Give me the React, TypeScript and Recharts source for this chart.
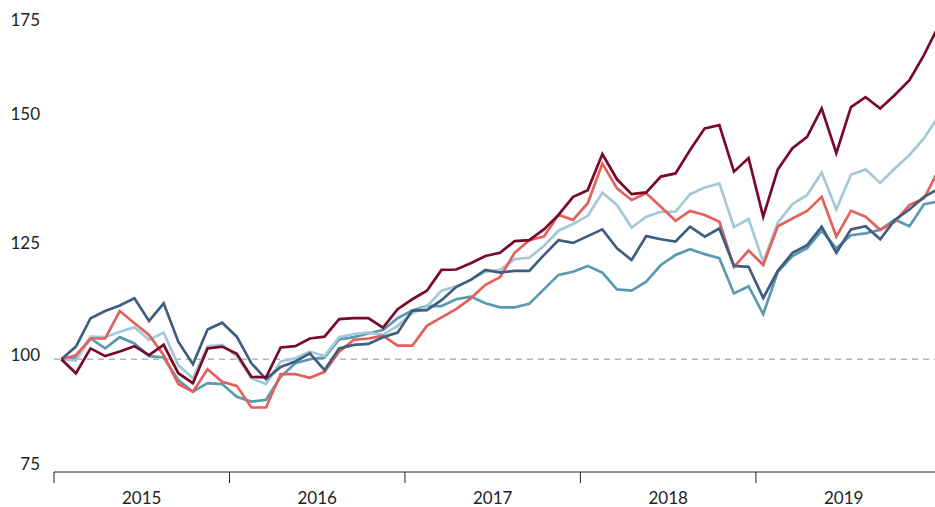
import { LineChart, Line, XAxis, YAxis, ReferenceLine } from 'recharts';

// monthly index, Jan 2015 .. Jan 2020 (plotted mid-month)
const MONTHS = [
    0, 1, 2, 3, 4, 5, 6, 7, 8, 9, 10, 11, 12, 13, 14, 15, 16, 17, 18, 19,
    20, 21, 22, 23, 24, 25, 26, 27, 28, 29, 30, 31, 32, 33, 34, 35, 36, 37, 38, 39,
    40, 41, 42, 43, 44, 45, 46, 47, 48, 49, 50, 51, 52, 53, 54, 55, 56, 57, 58, 59, 60,
];

const YEARS = ['2015', '2016', '2017', '2018', '2019'];
const Y_TICKS = [75, 100, 125, 150, 175];

const DARK_RED = [
    100, 96.9, 102.4, 100.7, 101.7, 102.9, 100.9, 103.2, 96.9, 94.7, 102.4, 102.8,
    101.2, 96.1, 96.0, 102.6, 102.9, 104.6, 105.0, 108.9, 109.1, 109.1, 107.0, 111.1,
    113.3, 115.2, 119.8, 119.9, 121.3, 122.9, 123.6, 126.2, 126.4, 128.8, 132.0, 136.0,
    137.5, 145.5, 139.9, 136.6, 137.0, 140.5, 141.2, 146.4, 151.2, 151.9, 141.6, 144.6,
    131.6, 142.1, 146.8, 149.3, 155.6, 145.7, 155.9, 158.1, 155.6, 158.6, 161.9, 167.5, 174.0,
];
const SALMON = [
    100, 100.9, 104.6, 104.6, 110.7, 108.0, 105.4, 100.9, 94.5, 92.8, 97.8, 95.0,
    94.1, 89.3, 89.3, 96.7, 96.7, 95.9, 97.2, 101.7, 104.3, 104.6, 105.2, 103.0,
    103.0, 107.4, 109.3, 111.1, 113.5, 116.5, 118.2, 123.6, 126.4, 127.2, 132.0, 130.9,
    134.6, 143.4, 137.9, 135.3, 136.8, 133.8, 130.7, 132.9, 132.0, 130.5, 120.5, 124.1,
    120.9, 129.5, 131.2, 132.9, 136.0, 127.2, 132.9, 131.6, 128.7, 130.5, 134.2, 135.7, 142.0,
];
const LIGHT_BLUE = [
    100, 99.7, 105.0, 104.9, 106.1, 107.1, 104.3, 105.9, 98.7, 95.8, 102.9, 103.2,
    100.6, 95.8, 94.5, 99.5, 100.2, 101.7, 100.7, 104.9, 105.6, 105.9, 105.4, 107.4,
    110.2, 111.7, 115.2, 116.2, 117.6, 119.4, 119.8, 122.2, 122.5, 125.1, 128.5, 130.0,
    131.8, 136.9, 134.2, 129.2, 131.6, 132.7, 132.7, 136.6, 138.1, 139.0, 129.3, 131.1,
    121.6, 130.3, 134.4, 136.4, 141.4, 133.2, 140.9, 142.1, 139.1, 142.3, 145.3, 149.0, 154.0,
];
const DARK_BLUE = [
    100, 102.8, 109.1, 110.7, 111.9, 113.5, 108.5, 112.4, 103.9, 98.9, 106.6, 108.1,
    105.0, 99.1, 95.6, 98.3, 99.5, 101.3, 97.6, 102.4, 103.2, 103.4, 104.9, 105.9,
    110.8, 110.9, 113.1, 116.0, 117.6, 119.8, 119.2, 119.6, 119.6, 123.1, 126.4, 125.8,
    127.3, 128.8, 124.6, 122.0, 127.3, 126.6, 126.1, 129.4, 127.2, 129.0, 120.7, 120.5,
    113.6, 119.6, 123.6, 125.3, 129.4, 123.6, 128.8, 129.5, 126.6, 130.9, 133.2, 136.0, 137.8,
];
const TEAL = [
    100, 100.2, 104.6, 102.4, 104.9, 103.5, 100.7, 100.4, 95.4, 92.8, 94.7, 94.5,
    91.7, 90.6, 91.0, 96.1, 99.1, 100.0, 100.4, 104.4, 104.9, 105.7, 106.5, 109.1,
    110.8, 111.8, 111.8, 113.3, 113.9, 112.4, 111.5, 111.5, 112.3, 115.5, 118.7, 119.4,
    120.7, 119.2, 115.5, 115.2, 117.2, 120.9, 123.1, 124.4, 123.3, 122.4, 114.6, 116.2,
    110.0, 119.4, 122.9, 124.6, 128.5, 124.6, 127.5, 127.9, 128.7, 131.0, 129.5, 134.4, 135.0,
];

const data = MONTHS.map((m, i) => ({
    t: m + 0.5,
    darkRed: DARK_RED[i],
    salmon: SALMON[i],
    lightBlue: LIGHT_BLUE[i],
    darkBlue: DARK_BLUE[i],
    teal: TEAL[i],
}));

const FONT = 'Lato, "Open Sans", sans-serif';

const YTick = ({ x, y, payload }: any) => {
    // labels sit a little above their gridline in the original
    const shift: Record<number, number> = { 75: -2, 150: -14, 175: 5 };
    const dy = shift[payload.value] ?? 2;
    return (
        <text x={x} y={y + dy} textAnchor="end" fontSize={17} fontFamily={FONT} fill="#222">
            {payload.value}
        </text>
    );
};

const XTick = ({ x, y, payload }: any) => {
    const v = payload.value;
    if (v % 12 === 0) {
        return <line x1={x} y1={y} x2={x} y2={y + 11} stroke="#222" strokeWidth={1} />;
    }
    const year = YEARS[(v - 6) / 12];
    if (!year) return null;
    return (
        <text x={x} y={y + 32} textAnchor="middle" fontSize={17} fontFamily={FONT} fill="#222">
            {year}
        </text>
    );
};

const App = () => {
    return (
        <div style={{ position: 'absolute', left: 0, top: 0, width: 935, height: 507, overflow: 'hidden', background: '#fff' }}>
            <LineChart width={946} height={507} data={data} margin={{ top: 21, right: 0, bottom: 0, left: 0 }}>
                <XAxis
                    dataKey="t"
                    type="number"
                    domain={[0, 61]}
                    ticks={[0, 6, 12, 18, 24, 30, 36, 42, 48, 54]}
                    interval={0}
                    height={35}
                    tickSize={0}
                    tickMargin={0}
                    tickLine={false}
                    axisLine={{ stroke: '#222', strokeWidth: 1 }}
                    tick={<XTick />}
                />
                <YAxis
                    domain={[75, 175]}
                    ticks={Y_TICKS}
                    interval={0}
                    width={54}
                    tickSize={0}
                    tickMargin={14}
                    tickLine={false}
                    axisLine={false}
                    tick={<YTick />}
                />
                <ReferenceLine y={100} stroke="#b3b3b3" strokeWidth={1.5} strokeDasharray="6 5" />
                <Line type="linear" dataKey="teal" stroke="#5a9ab0" strokeWidth={2.7} dot={false} isAnimationActive={false} />
                <Line type="linear" dataKey="lightBlue" stroke="#a3c9d9" strokeWidth={2.7} dot={false} isAnimationActive={false} />
                <Line type="linear" dataKey="salmon" stroke="#e5605a" strokeWidth={2.7} dot={false} isAnimationActive={false} />
                <Line type="linear" dataKey="darkBlue" stroke="#3f5d7f" strokeWidth={2.7} dot={false} isAnimationActive={false} />
                <Line type="linear" dataKey="darkRed" stroke="#7a0829" strokeWidth={2.7} dot={false} isAnimationActive={false} />
            </LineChart>
        </div>
    );
};

export default App;
